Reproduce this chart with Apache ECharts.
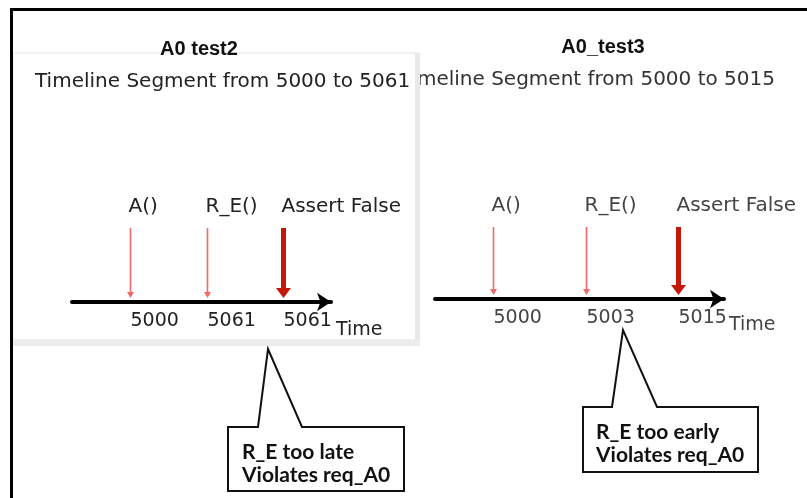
<!DOCTYPE html>
<html>
<head>
<meta charset="utf-8">
<script src="https://cdn.jsdelivr.net/npm/echarts@6/dist/echarts.min.js"></script>
<style>
  html, body { margin: 0; padding: 0; background: #fff; }
  #main { width: 807px; height: 498px; }
</style>
</head>
<body>
<div id="main"></div>
<script>
// events on each timeline, in order
var events = ['A()', 'R_E()', 'Assert False'];
// time stamps shown under each event
var test2Times = ['5000', '5061', '5061'];
var test3Times = ['5000', '5003', '5015'];
var test2Range = ['5000', '5061'];
var test3Range = ['5000', '5015'];
var test2Note = ['R_E too late', 'Violates req_A0'];
var test3Note = ['R_E too early', 'Violates req_A0'];

var myChart = echarts.init(document.getElementById('main'));

// arrows + labels for one timeline, drawn from axis coords
function makeRender(times, font, timeFont, color) {
    return function (params, api) {
        var i = api.value(0);
        var top = api.coord([i, 1]);
        var base = api.coord([i, 0]);
        var heavy = events[params.dataIndex] === 'Assert False';
        var col = heavy ? '#c4170a' : '#f26a6a';
        var lw = heavy ? 5 : 1.6;
        var hw = heavy ? 7.5 : 3.5;
        var hh = heavy ? 10 : 6;
        var x = Math.round(top[0]) + 0.5;
        var tipY = base[1] - 4;
        return {
            type: 'group',
            children: [
                { type: 'line', shape: { x1: x, y1: top[1], x2: x, y2: tipY - hh + 1 },
                  style: { stroke: col, lineWidth: lw } },
                { type: 'polygon', shape: { points: [[x - hw, tipY - hh], [x + hw, tipY - hh], [x, tipY]] },
                  style: { fill: col } },
                { type: 'text', x: x - 2, y: top[1] - 21,
                  style: { text: events[params.dataIndex], font: font, fill: color,
                           textAlign: 'left', textVerticalAlign: 'middle' } },
                { type: 'text', x: x, y: base[1] + 19,
                  style: { text: times[params.dataIndex], font: timeFont, fill: color,
                           textAlign: 'left', textVerticalAlign: 'middle' } }
            ]
        };
    };
}

function axisFor(idx, min, max) {
    return {
        type: 'value', gridIndex: idx, min: min, max: max, z: 5,
        position: 'bottom',
        name: 'Time', nameLocation: 'end', nameGap: 5,
        nameTextStyle: { fontFamily: 'DejaVu Sans', fontSize: 19, color: idx ? '#444' : '#222',
                         verticalAlign: 'top', padding: [idx ? 17 : 19, 0, 0, 0] },
        axisLine: { show: true, onZero: false, symbol: ['none', 'arrow'], symbolSize: [14, 14],
                    lineStyle: { color: '#000', width: 4 } },
        axisTick: { show: false }, axisLabel: { show: false }, splitLine: { show: false }
    };
}

function callout(pts, note, tx, ty) {
    return [
        { type: 'polygon', z: 10, shape: { points: pts },
          style: { fill: '#fff', stroke: '#111', lineWidth: 2 } },
        { type: 'text', z: 11, x: tx, y: ty,
          style: { text: note[0] + '\n' + note[1], font: 'bold 21px Lato', fill: '#111',
                   lineHeight: 23, textVerticalAlign: 'top' } }
    ];
}

var option = {
    backgroundColor: '#fff',
    animation: false,
    title: [
        { text: 'A0 test2', left: 199, top: 39, padding: 0, textAlign: 'center', z: 5,
          textStyle: { fontFamily: 'Liberation Sans', fontWeight: 'bold', fontSize: 20, color: '#111' } },
        { text: 'A0_test3', left: 603, top: 37, padding: 0, textAlign: 'center', z: 0,
          textStyle: { fontFamily: 'Liberation Sans', fontWeight: 'bold', fontSize: 20, color: '#111' } }
    ],
    grid: [
        { left: 72, top: 228, width: 259, height: 74 },
        { left: 435, top: 227, width: 289, height: 72 }
    ],
    xAxis: [axisFor(0, -0.758, 2.627), axisFor(1, -0.627, 2.497)],
    yAxis: [
        { type: 'value', gridIndex: 0, min: 0, max: 1, show: false },
        { type: 'value', gridIndex: 1, min: 0, max: 1, show: false }
    ],
    series: [
        { type: 'custom', xAxisIndex: 0, yAxisIndex: 0, z: 6, silent: true,
          data: events.map(function (e, i) { return [i, 1]; }),
          renderItem: makeRender(test2Times, '20px DejaVu Sans', '19px DejaVu Sans', '#222') },
        { type: 'custom', xAxisIndex: 1, yAxisIndex: 1, z: 6, silent: true,
          data: events.map(function (e, i) { return [i, 1]; }),
          renderItem: makeRender(test3Times, '20px DejaVu Sans', '19px DejaVu Sans', '#444') }
    ],
    graphic: [
        { type: 'text', z: 0, x: 775, y: 80,
          style: { text: 'Timeline Segment from ' + test3Range[0] + ' to ' + test3Range[1],
                   font: '20px DejaVu Sans', fill: '#333', textAlign: 'right', textVerticalAlign: 'middle' } },
        // white panel behind test2, with faint edge and shadow strips
        { type: 'rect', z: 1, shape: { x: 13, y: 53, width: 404, height: 287 },
          style: { fill: '#fff', stroke: '#f0f0f0', lineWidth: 1.5 } },
        { type: 'rect', z: 1, shape: { x: 415, y: 53, width: 5, height: 293 },
          style: { fill: '#e9e9e9' } },
        { type: 'rect', z: 1, shape: { x: 13, y: 339, width: 407, height: 7 },
          style: { fill: '#ececec' } },
        { type: 'text', z: 3, x: 35, y: 82,
          style: { text: 'Timeline Segment from ' + test2Range[0] + ' to ' + test2Range[1],
                   font: '20px DejaVu Sans', fill: '#222', textAlign: 'left', textVerticalAlign: 'middle' } },
        { type: 'rect', z: 20, shape: { x: 11.5, y: 9.5, width: 820, height: 520 },
          style: { fill: 'none', stroke: '#000', lineWidth: 3 } }
    ]
    .concat(callout([[228, 427], [258, 427], [268, 349], [302, 427], [404, 427], [404, 491], [228, 491]],
                    test2Note, 242, 441))
    .concat(callout([[583, 407], [612, 407], [623, 330], [657, 407], [758, 407], [758, 472], [583, 472]],
                    test3Note, 596, 421))
};

myChart.setOption(option);
</script>
</body>
</html>
